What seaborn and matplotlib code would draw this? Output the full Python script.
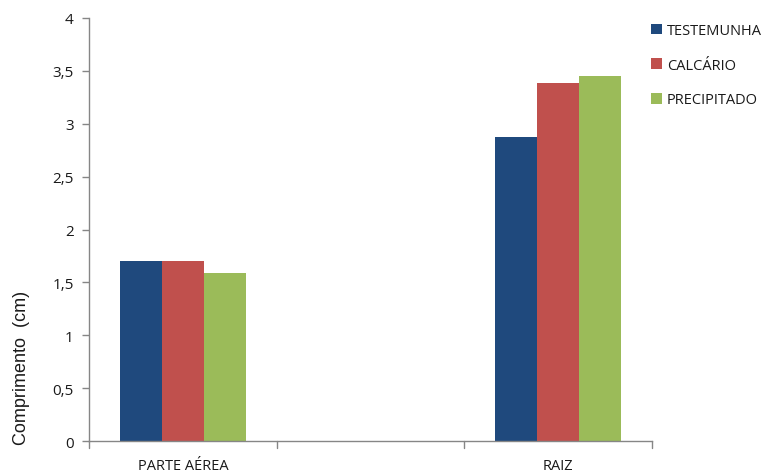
import matplotlib
matplotlib.use("Agg")
import matplotlib.pyplot as plt
import seaborn as sns
import pandas as pd

# Data
categories = ["PARTE AÉREA", "", "RAIZ"]
treatments = ["TESTEMUNHA", "CALCÁRIO", "PRECIPITADO"]
parte_aerea = [1.70, 1.70, 1.59]
raiz = [2.87, 3.39, 3.45]
colors = ["#1F497D", "#C0504D", "#9BBB59"]
yticks = [0, 0.5, 1, 1.5, 2, 2.5, 3, 3.5, 4]

rows = []
for t, v in zip(treatments, parte_aerea):
    rows.append({"parte": "PARTE AÉREA", "trat": t, "comp": v})
for t, v in zip(treatments, raiz):
    rows.append({"parte": "RAIZ", "trat": t, "comp": v})
df = pd.DataFrame(rows)

sns.set_style("white")
plt.rcParams["font.family"] = ["DejaVu Sans"]

fig = plt.figure(figsize=(7.81, 4.77), dpi=100)
ax = fig.add_axes([89 / 781, 1 - 442 / 477, (652 - 89) / 781, (442 - 19) / 477])

sns.barplot(data=df, x="parte", y="comp", hue="trat", order=categories,
            hue_order=treatments, palette=colors, width=0.67, dodge=True,
            saturation=1, errorbar=None, ax=ax, edgecolor="none", linewidth=0)

ax.set_xlim(-0.5, 2.5)
ax.set_ylim(0, 4)
ax.set_yticks(yticks)
ax.set_yticklabels([f"{v:g}".replace(".", ",") for v in yticks],
                   fontsize=11, color="#1a1a1a", family="Open Sans")
ax.tick_params(axis="y", length=5, width=1, color="#868686", direction="out", pad=6, left=True)

# Category axis: labels centred, ticks on category boundaries
ax.set_xticks([0, 2])
ax.set_xticklabels(["PARTE AÉREA", "RAIZ"], fontsize=10.5, color="#1a1a1a",
                   family="Open Sans")
ax.tick_params(axis="x", length=0, pad=12)
for xb in [-0.5, 0.5, 1.5, 2.5]:
    ax.plot([xb, xb], [0, -0.07], color="#868686", lw=1, clip_on=False,
            transform=ax.transData)

for side in ["top", "right"]:
    ax.spines[side].set_visible(False)
for side in ["left", "bottom"]:
    ax.spines[side].set_color("#868686")
    ax.spines[side].set_linewidth(1)

ax.set_xlabel("")
ax.set_ylabel("")
fig.text(22 / 781, 1 - 368 / 477, "Comprimento  (cm)", rotation=90,
         ha="center", va="center", fontsize=13, color="#1a1a1a",
         family="Liberation Sans")

leg = ax.legend(loc="upper left", bbox_to_anchor=(651 / 781, 1 - 24 / 477),
                bbox_transform=fig.transFigure, frameon=False,
                prop={"family": "Open Sans", "size": 10.5, "weight": "medium"},
                handlelength=0.75, handleheight=0.75, handletextpad=0.35,
                labelspacing=1.35, borderaxespad=0, borderpad=0)
for txt in leg.get_texts():
    txt.set_color("#1a1a1a")

fig.savefig("out.png", dpi=100)
